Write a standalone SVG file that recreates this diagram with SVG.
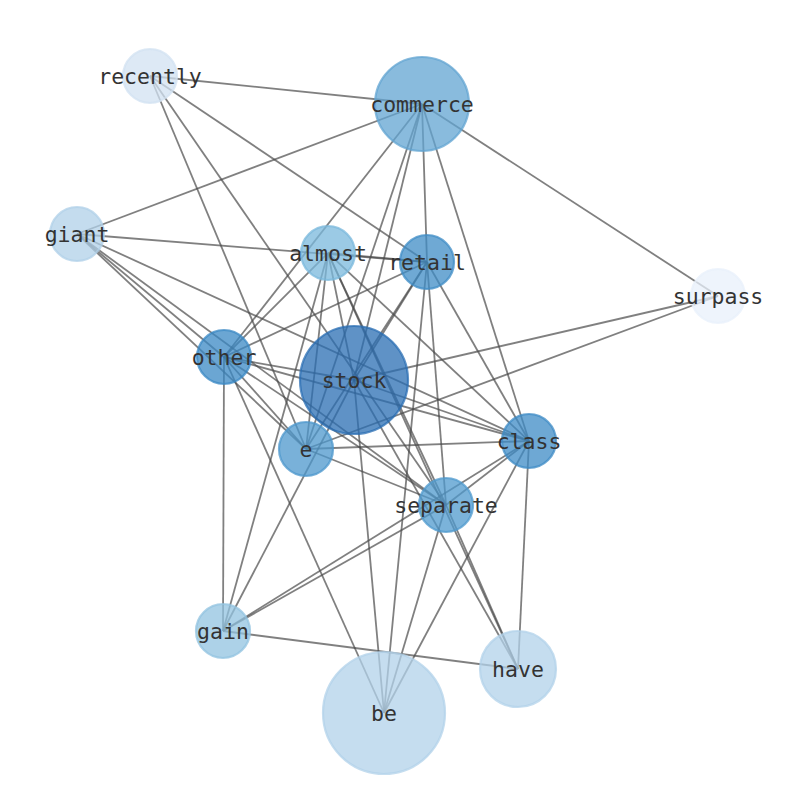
<svg xmlns="http://www.w3.org/2000/svg" width="794" height="790" viewBox="0 0 794 790">
<style>
.bg{fill:#ffffff}
#edges line{stroke:#4a4a4a;stroke-opacity:0.7;stroke-width:1.8}
.node circle{stroke-width:2.2;fill-opacity:0.75;stroke-opacity:0.75}
.node text{font-family:"DejaVu Sans Mono","Liberation Mono",monospace;font-size:21.5px;fill:#333333;text-anchor:middle;dominant-baseline:central}
</style>
<rect class="bg" x="0" y="0" width="794" height="790"/>
<g id="edges">
<line x1="150" y1="76" x2="422" y2="104"/>
<line x1="150" y1="76" x2="427" y2="262"/>
<line x1="150" y1="76" x2="306" y2="449"/>
<line x1="150" y1="76" x2="446" y2="505"/>
<line x1="422" y1="104" x2="77" y2="234"/>
<line x1="422" y1="104" x2="718" y2="296"/>
<line x1="422" y1="104" x2="427" y2="262"/>
<line x1="422" y1="104" x2="529" y2="441"/>
<line x1="422" y1="104" x2="224" y2="357"/>
<line x1="422" y1="104" x2="354" y2="380"/>
<line x1="422" y1="104" x2="306" y2="449"/>
<line x1="77" y1="234" x2="427" y2="262"/>
<line x1="77" y1="234" x2="529" y2="441"/>
<line x1="77" y1="234" x2="224" y2="357"/>
<line x1="77" y1="234" x2="306" y2="449"/>
<line x1="77" y1="234" x2="446" y2="505"/>
<line x1="328" y1="253" x2="427" y2="262"/>
<line x1="328" y1="253" x2="224" y2="357"/>
<line x1="328" y1="253" x2="223" y2="631"/>
<line x1="328" y1="253" x2="354" y2="380"/>
<line x1="328" y1="253" x2="446" y2="505"/>
<line x1="328" y1="253" x2="518" y2="669"/>
<line x1="328" y1="253" x2="529" y2="441"/>
<line x1="328" y1="253" x2="306" y2="449"/>
<line x1="427" y1="262" x2="224" y2="357"/>
<line x1="427" y1="262" x2="354" y2="380"/>
<line x1="427" y1="262" x2="306" y2="449"/>
<line x1="427" y1="262" x2="529" y2="441"/>
<line x1="427" y1="262" x2="446" y2="505"/>
<line x1="427" y1="262" x2="384" y2="713"/>
<line x1="718" y1="296" x2="354" y2="380"/>
<line x1="718" y1="296" x2="306" y2="449"/>
<line x1="224" y1="357" x2="354" y2="380"/>
<line x1="224" y1="357" x2="529" y2="441"/>
<line x1="224" y1="357" x2="446" y2="505"/>
<line x1="224" y1="357" x2="306" y2="449"/>
<line x1="224" y1="357" x2="384" y2="713"/>
<line x1="224" y1="357" x2="223" y2="631"/>
<line x1="354" y1="380" x2="529" y2="441"/>
<line x1="354" y1="380" x2="384" y2="713"/>
<line x1="354" y1="380" x2="518" y2="669"/>
<line x1="354" y1="380" x2="223" y2="631"/>
<line x1="306" y1="449" x2="529" y2="441"/>
<line x1="306" y1="449" x2="446" y2="505"/>
<line x1="529" y1="441" x2="446" y2="505"/>
<line x1="529" y1="441" x2="223" y2="631"/>
<line x1="529" y1="441" x2="518" y2="669"/>
<line x1="529" y1="441" x2="384" y2="713"/>
<line x1="446" y1="505" x2="223" y2="631"/>
<line x1="446" y1="505" x2="384" y2="713"/>
<line x1="446" y1="505" x2="518" y2="669"/>
<line x1="223" y1="631" x2="518" y2="669"/>
</g>
<g id="node-recently" class="node"><circle cx="150" cy="76" r="27" fill="#d2e1f2" stroke="#d2e1f2"/><text x="150" y="76">recently</text></g>
<g id="node-commerce" class="node"><circle cx="422" cy="104" r="47" fill="#62a4d2" stroke="#62a4d2"/><text x="422" y="104">commerce</text></g>
<g id="node-giant" class="node"><circle cx="77" cy="234" r="27" fill="#b0d0e8" stroke="#b0d0e8"/><text x="77" y="234">giant</text></g>
<g id="node-retail" class="node"><circle cx="427" cy="262" r="27" fill="#3f8cc6" stroke="#3f8cc6"/><text x="427" y="262">retail</text></g>
<g id="node-almost" class="node"><circle cx="328" cy="253" r="27" fill="#7ab8dc" stroke="#7ab8dc"/><text x="328" y="253">almost</text></g>
<g id="node-surpass" class="node"><circle cx="718" cy="296" r="27" fill="#e8f0fb" stroke="#e8f0fb"/><text x="718" y="296">surpass</text></g>
<g id="node-other" class="node"><circle cx="224" cy="357" r="27" fill="#3a88c4" stroke="#3a88c4"/><text x="224" y="357">other</text></g>
<g id="node-e" class="node"><circle cx="306" cy="449" r="27" fill="#4c97cc" stroke="#4c97cc"/><text x="306" y="449">e</text></g>
<g id="node-stock" class="node"><circle cx="354" cy="380" r="54" fill="#2a6db3" stroke="#2a6db3"/><text x="354" y="380">stock</text></g>
<g id="node-class" class="node"><circle cx="529" cy="441" r="27" fill="#3d8bc6" stroke="#3d8bc6"/><text x="529" y="441">class</text></g>
<g id="node-separate" class="node"><circle cx="446" cy="505" r="27" fill="#4f99cd" stroke="#4f99cd"/><text x="446" y="505">separate</text></g>
<g id="node-gain" class="node"><circle cx="223" cy="631" r="27" fill="#91c3e0" stroke="#91c3e0"/><text x="223" y="631">gain</text></g>
<g id="node-have" class="node"><circle cx="518" cy="669" r="38" fill="#b2d2ea" stroke="#b2d2ea"/><text x="518" y="669">have</text></g>
<g id="node-be" class="node"><circle cx="384" cy="713" r="61" fill="#b2d2ea" stroke="#b2d2ea"/><text x="384" y="713">be</text></g>
</svg>
